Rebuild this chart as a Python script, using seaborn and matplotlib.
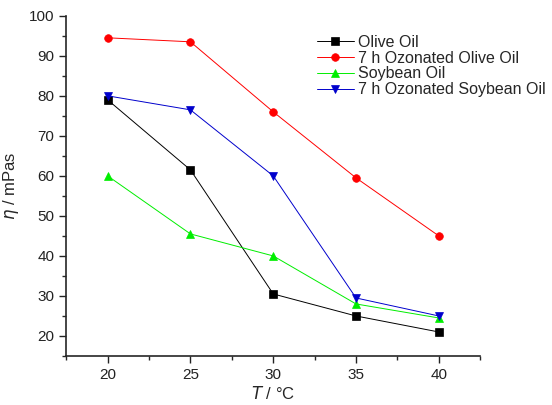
import matplotlib
matplotlib.use("Agg")
import matplotlib.pyplot as plt
import seaborn as sns
import pandas as pd
from matplotlib.ticker import MultipleLocator

temps = [20, 25, 30, 35, 40]
olive = [79, 61.5, 30.5, 25, 21]
ozon_olive = [94.5, 93.5, 76, 59.5, 45]
soybean = [60, 45.5, 40, 28, 24.5]
ozon_soy = [80, 76.5, 60, 29.5, 25]
names = ["Olive Oil", "7 h Ozonated Olive Oil", "Soybean Oil", "7 h Ozonated Soybean Oil"]
series = [olive, ozon_olive, soybean, ozon_soy]
colors = ["#000000", "#ff0000", "#00ee00", "#0000cc"]
markers = ["s", "o", "^", "v"]

rows = []
for n, vals in zip(names, series):
    for t, v in zip(temps, vals):
        rows.append({"T": t, "eta": v, "oil": n})
df = pd.DataFrame(rows)

sns.set_style("ticks")
plt.rcParams['font.family'] = ['Liberation Sans', 'DejaVu Sans']
fig = plt.figure(figsize=(5.52, 4.05), dpi=100)
ax = fig.add_axes([0.12, 0.121, 0.75, 0.84])

sns.lineplot(data=df, x="T", y="eta", hue="oil", style="oil", hue_order=names,
             style_order=names, palette=dict(zip(names, colors)),
             markers=dict(zip(names, markers)), dashes=False, ax=ax,
             linewidth=0.7, markersize=5.5, markeredgewidth=0.5, markeredgecolor=None)

ax.set_xlim(17.5, 42.5)
ax.set_ylim(15, 100)
ax.xaxis.set_major_locator(MultipleLocator(5))
ax.xaxis.set_minor_locator(MultipleLocator(2.5))
ax.yaxis.set_major_locator(MultipleLocator(10))
ax.yaxis.set_minor_locator(MultipleLocator(5))
ax.tick_params(which="major", direction="out", length=5, width=1, labelsize=11, colors="#222222")
ax.tick_params(which="minor", direction="out", length=3, width=1)
for s in ["top", "right"]:
    ax.spines[s].set_visible(False)
for s in ["left", "bottom"]:
    ax.spines[s].set_linewidth(1.2)
ax.set_xlabel(r"$T$ / °C", fontsize=12, labelpad=2)
ax.set_ylabel(r"$\eta$ / mPas", fontsize=12, labelpad=6)

leg = ax.legend(loc="upper left", bbox_to_anchor=(0.59, 0.963), frameon=False,
                fontsize=11.5, handlelength=2.3, handletextpad=0.3, labelspacing=0.05,
                borderaxespad=0)

fig.savefig("out.png", dpi=100)
